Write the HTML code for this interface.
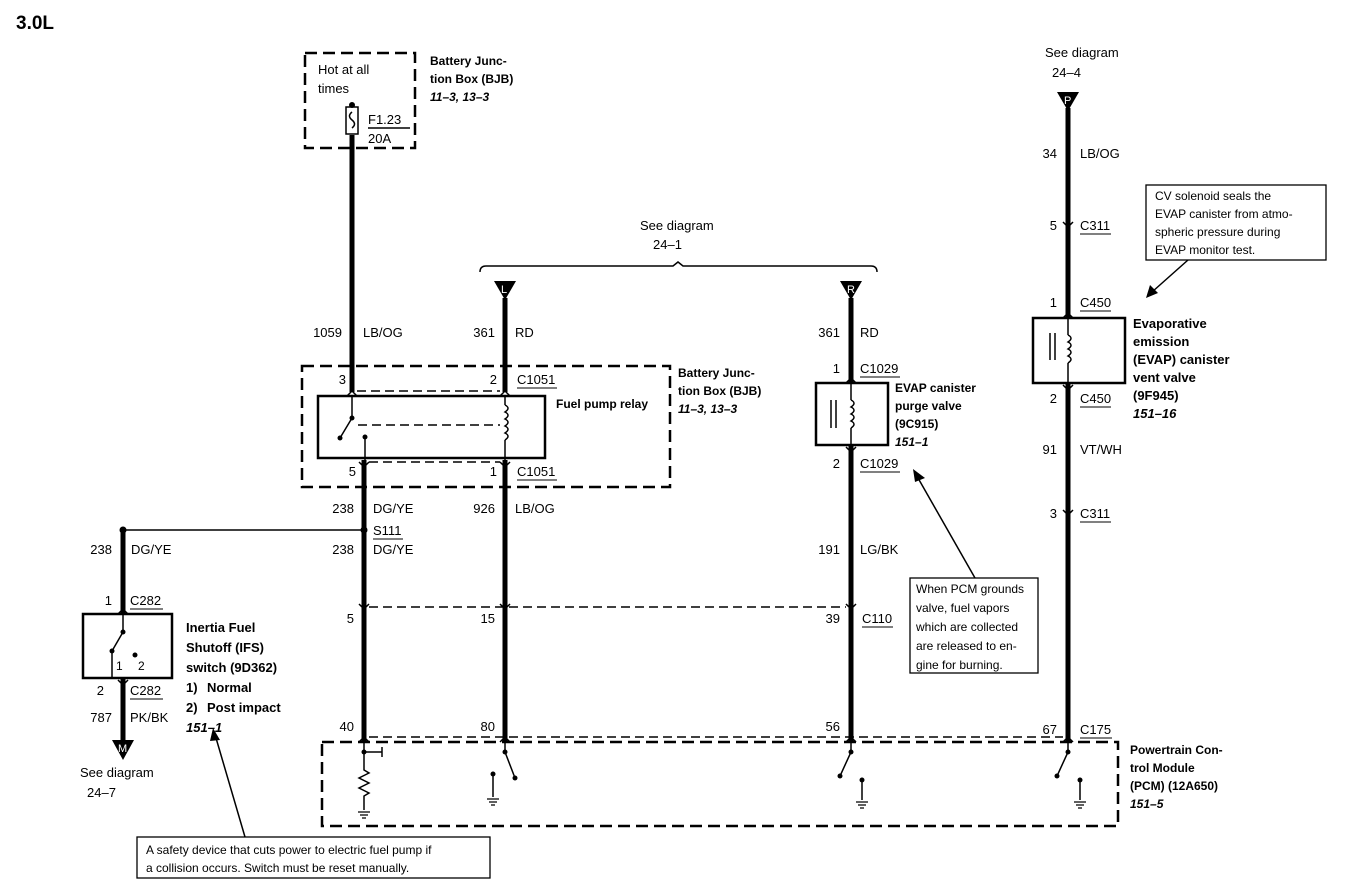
<!DOCTYPE html>
<html><head><meta charset="utf-8"><style>
html,body{margin:0;padding:0;background:#fff;width:1366px;height:887px;overflow:hidden}
svg text{font-family:"Liberation Sans",Arial,sans-serif;font-size:13px;fill:#000;white-space:pre}
.b{font-weight:bold}.bi{font-weight:bold;font-style:italic}
</style></head><body>
<svg width="1366" height="887" viewBox="0 0 1366 887" xmlns="http://www.w3.org/2000/svg">
<text x="16" y="29" class="b" style="font-size:19px">3.0L</text>

<g stroke="#000" stroke-width="5" fill="none">
<line x1="352" y1="135" x2="352" y2="392"/>
<line x1="505" y1="298" x2="505" y2="392"/>
<line x1="505" y1="460" x2="505" y2="742"/>
<line x1="364" y1="460" x2="364" y2="742"/>
<line x1="851" y1="298" x2="851" y2="383"/>
<line x1="851" y1="445" x2="851" y2="742"/>
<line x1="1068" y1="108" x2="1068" y2="318"/>
<line x1="1068" y1="383" x2="1068" y2="742"/>
<line x1="123" y1="530" x2="123" y2="614"/>
<line x1="123" y1="678" x2="123" y2="742"/>
</g>

<g stroke="#000" stroke-width="1.5" fill="none">
<line x1="123" y1="530" x2="364" y2="530"/>
<line x1="352" y1="396" x2="352" y2="418"/>
<line x1="352" y1="418" x2="340" y2="438"/>
<line x1="365" y1="437" x2="365" y2="460"/>
<line x1="505" y1="396" x2="505" y2="405"/>
<path d="M505 405 q6 3 0 7 q6 3 0 7 q6 3 0 7 q6 3 0 7 q6 3 0 7"/>
<line x1="505" y1="440" x2="505" y2="460"/>
<line x1="123" y1="614" x2="123" y2="632"/>
<line x1="123" y1="632" x2="112" y2="651"/>
<line x1="112" y1="651" x2="112" y2="678"/>
<line x1="851" y1="383" x2="851" y2="400"/>
<path d="M851 400 q6 3 0 7 q6 3 0 7 q6 3 0 7 q6 3 0 7"/>
<line x1="851" y1="428" x2="851" y2="445"/>
<line x1="831" y1="400" x2="831" y2="428"/><line x1="836" y1="400" x2="836" y2="428"/>
<line x1="1068" y1="318" x2="1068" y2="335"/>
<path d="M1068 335 q6 3 0 7 q6 3 0 7 q6 3 0 7 q6 3 0 7"/>
<line x1="1068" y1="363" x2="1068" y2="383"/>
<line x1="1050" y1="333" x2="1050" y2="360"/><line x1="1055" y1="333" x2="1055" y2="360"/>
<rect x="346" y="107" width="12" height="27"/>
<path d="M352 112 q-5 4 0 8 q5 4 0 8"/>
<line x1="368" y1="128" x2="410" y2="128"/>
<path d="M480 272 q0 -6 6 -6 L673 266 l5 -4 l5 4 L871 266 q6 0 6 6"/>
<line x1="975" y1="578" x2="918" y2="478"/>
<line x1="1188" y1="260" x2="1152" y2="292"/>
<line x1="245" y1="837" x2="216" y2="738"/>
<line x1="364" y1="742" x2="364" y2="752"/>
<line x1="364" y1="752" x2="382" y2="752"/><line x1="382" y1="747" x2="382" y2="757"/>
<path d="M364 752 L364 770 l5 3 l-10 5 l10 5 l-10 5 l10 5 l-5 3 L364 810"/>
<line x1="505" y1="742" x2="505" y2="752"/><line x1="505" y1="752" x2="515" y2="778"/>
<line x1="493" y1="774" x2="493" y2="797"/>
<line x1="851" y1="742" x2="851" y2="752"/><line x1="851" y1="752" x2="840" y2="776"/>
<line x1="862" y1="780" x2="862" y2="800"/>
<line x1="1068" y1="742" x2="1068" y2="752"/><line x1="1068" y1="752" x2="1057" y2="776"/>
<line x1="1080" y1="780" x2="1080" y2="800"/>
</g>
<polygon points="913,469 925,478 915,482" fill="#000"/>
<polygon points="1146,298 1150,285 1158,293" fill="#000"/>
<polygon points="213,728 220,740 210,741" fill="#000"/>

<g stroke="#000" stroke-width="1.2">
<path d="M358 812 h12 M360 815 h8 M362 818 h4"/>
<path d="M487 799 h12 M489 802 h8 M491 805 h4"/>
<path d="M856 802 h12 M858 805 h8 M860 808 h4"/>
<path d="M1074 802 h12 M1076 805 h8 M1078 808 h4"/>
</g>

<g fill="#000">
<circle cx="123" cy="530" r="3.5"/><circle cx="364" cy="530" r="3.5"/>
<circle cx="352" cy="105" r="3"/>
<circle cx="352" cy="418" r="2.5"/><circle cx="340" cy="438" r="2.5"/><circle cx="365" cy="437" r="2.5"/>
<circle cx="123" cy="632" r="2.5"/><circle cx="112" cy="651" r="2.5"/><circle cx="135" cy="655" r="2.5"/>
<circle cx="364" cy="752" r="2.5"/>
<circle cx="505" cy="752" r="2.5"/><circle cx="515" cy="778" r="2.5"/><circle cx="493" cy="774" r="2.5"/>
<circle cx="851" cy="752" r="2.5"/><circle cx="840" cy="776" r="2.5"/><circle cx="862" cy="780" r="2.5"/>
<circle cx="1068" cy="752" r="2.5"/><circle cx="1057" cy="776" r="2.5"/><circle cx="1080" cy="780" r="2.5"/>
</g>

<g stroke="#000" stroke-width="1.5" fill="none">
<path d="M347 396 l5 -5 l5 5 M500 396 l5 -5 l5 5"/>
<path d="M359 462 l5 5 l5 -5 M500 462 l5 5 l5 -5"/>
<path d="M359 604 l5 5 l5 -5 M500 604 l5 5 l5 -5 M846 604 l5 5 l5 -5"/>
<path d="M359 742 l5 -5 l5 5 M500 742 l5 -5 l5 5 M846 742 l5 -5 l5 5 M1063 742 l5 -5 l5 5"/>
<path d="M846 383 l5 -5 l5 5 M846 447 l5 5 l5 -5"/>
<path d="M1063 318 l5 -5 l5 5 M1063 385 l5 5 l5 -5"/>
<path d="M1063 222 l5 5 l5 -5 M1063 510 l5 5 l5 -5"/>
<path d="M118 614 l5 -5 l5 5 M118 680 l5 5 l5 -5"/>
</g>

<g stroke="#000" stroke-width="2.5" fill="none" stroke-dasharray="12,6">
<rect x="305" y="53" width="110" height="95"/>
<rect x="302" y="366" width="368" height="121"/>
<rect x="322" y="742" width="796" height="84"/>
</g>
<g stroke="#000" stroke-width="1.5" fill="none" stroke-dasharray="9,5">
<line x1="357" y1="391" x2="500" y2="391"/>
<line x1="358" y1="425" x2="500" y2="425"/>
<line x1="369" y1="462" x2="500" y2="462"/>
<line x1="369" y1="607" x2="846" y2="607"/>
<line x1="369" y1="737" x2="1063" y2="737"/>
</g>
<g stroke="#000" stroke-width="2.5" fill="none">
<rect x="318" y="396" width="227" height="62"/>
<rect x="83" y="614" width="89" height="64"/>
<rect x="816" y="383" width="72" height="62"/>
<rect x="1033" y="318" width="92" height="65"/>
</g>
<g stroke="#000" stroke-width="1.3" fill="#fff">
<rect x="910" y="578" width="128" height="95"/>
<rect x="1146" y="185" width="180" height="75"/>
<rect x="137" y="837" width="353" height="41"/>
</g>

<g fill="#000">
<polygon points="494,281 516,281 505,300"/>
<polygon points="840,281 862,281 851,300"/>
<polygon points="1057,92 1079,92 1068,111"/>
<polygon points="112,740 134,740 123,760"/>
</g>
<text x="501" y="293" style="fill:#fff;font-size:11px">L</text>
<text x="847" y="293" style="fill:#fff;font-size:11px">R</text>
<text x="1064" y="104" style="fill:#fff;font-size:11px">P</text>
<text x="118" y="752" style="fill:#fff;font-size:11px">M</text>

<text x="318" y="74">Hot at all</text>
<text x="318" y="93">times</text>
<text x="368" y="124">F1.23</text>
<text x="368" y="143">20A</text>
<text x="430" y="65" class="b" style="font-size:12px">Battery Junc-</text>
<text x="430" y="83" class="b" style="font-size:12px">tion Box (BJB)</text>
<text x="430" y="101" class="bi" style="font-size:12px">11–3, 13–3</text>

<text x="640" y="230">See diagram</text>
<text x="653" y="249">24–1</text>
<text x="1045" y="57">See diagram</text>
<text x="1052" y="77">24–4</text>

<g text-anchor="end">
<text x="342" y="337">1059</text><text x="495" y="337">361</text><text x="840" y="337">361</text>
<text x="346" y="384">3</text><text x="497" y="384">2</text>
<text x="356" y="476">5</text><text x="497" y="476">1</text>
<text x="354" y="513">238</text><text x="495" y="513">926</text>
<text x="354" y="554">238</text>
<text x="112" y="554">238</text>
<text x="112" y="605">1</text><text x="104" y="695">2</text><text x="112" y="722">787</text>
<text x="354" y="623">5</text><text x="495" y="623">15</text><text x="840" y="623">39</text>
<text x="354" y="731">40</text><text x="495" y="731">80</text><text x="840" y="731">56</text><text x="1057" y="734">67</text>
<text x="840" y="373">1</text><text x="840" y="468">2</text><text x="840" y="554">191</text>
<text x="1057" y="158">34</text><text x="1057" y="230">5</text><text x="1057" y="307">1</text>
<text x="1057" y="403">2</text><text x="1057" y="454">91</text><text x="1057" y="518">3</text>
</g>
<text x="363" y="337">LB/OG</text><text x="515" y="337">RD</text><text x="860" y="337">RD</text>
<text x="517" y="384">C1051</text><text x="517" y="476">C1051</text>
<text x="556" y="408" class="b" style="font-size:12px">Fuel pump relay</text>
<text x="678" y="377" class="b" style="font-size:12px">Battery Junc-</text>
<text x="678" y="395" class="b" style="font-size:12px">tion Box (BJB)</text>
<text x="678" y="413" class="bi" style="font-size:12px">11–3, 13–3</text>
<text x="373" y="513">DG/YE</text><text x="515" y="513">LB/OG</text>
<text x="373" y="535">S111</text><text x="373" y="554">DG/YE</text>
<text x="131" y="554">DG/YE</text>
<text x="130" y="605">C282</text>
<text x="116" y="670" style="font-size:12px">1</text><text x="138" y="670" style="font-size:12px">2</text>
<text x="130" y="695">C282</text><text x="130" y="722">PK/BK</text>
<text x="80" y="777">See diagram</text><text x="87" y="797">24–7</text>
<text x="186" y="632" class="b">Inertia Fuel</text>
<text x="186" y="652" class="b">Shutoff (IFS)</text>
<text x="186" y="672" class="b">switch (9D362)</text>
<text x="186" y="692" class="b">1)</text><text x="207" y="692" class="b">Normal</text>
<text x="186" y="712" class="b">2)</text><text x="207" y="712" class="b">Post impact</text>
<text x="186" y="732" class="bi">151–1</text>
<text x="860" y="373">C1029</text><text x="860" y="468">C1029</text>
<text x="895" y="392" class="b" style="font-size:12px">EVAP canister</text>
<text x="895" y="410" class="b" style="font-size:12px">purge valve</text>
<text x="895" y="428" class="b" style="font-size:12px">(9C915)</text>
<text x="895" y="446" class="bi" style="font-size:12px">151–1</text>
<text x="860" y="554">LG/BK</text>
<text x="862" y="623">C110</text>
<text x="1080" y="734">C175</text>
<text x="1130" y="754" class="b" style="font-size:12px">Powertrain Con-</text>
<text x="1130" y="772" class="b" style="font-size:12px">trol Module</text>
<text x="1130" y="790" class="b" style="font-size:12px">(PCM) (12A650)</text>
<text x="1130" y="808" class="bi" style="font-size:12px">151–5</text>
<text x="1080" y="158">LB/OG</text><text x="1080" y="230">C311</text><text x="1080" y="307">C450</text>
<text x="1080" y="403">C450</text><text x="1080" y="454">VT/WH</text><text x="1080" y="518">C311</text>
<text x="1133" y="328" class="b">Evaporative</text>
<text x="1133" y="346" class="b">emission</text>
<text x="1133" y="364" class="b">(EVAP) canister</text>
<text x="1133" y="382" class="b">vent valve</text>
<text x="1133" y="400" class="b">(9F945)</text>
<text x="1133" y="418" class="bi">151–16</text>
<text x="916" y="593" style="font-size:12px">When PCM grounds</text>
<text x="916" y="612" style="font-size:12px">valve, fuel vapors</text>
<text x="916" y="631" style="font-size:12px">which are collected</text>
<text x="916" y="650" style="font-size:12px">are released to en-</text>
<text x="916" y="669" style="font-size:12px">gine for burning.</text>
<text x="1155" y="200" style="font-size:12px">CV solenoid seals the</text>
<text x="1155" y="218" style="font-size:12px">EVAP canister from atmo-</text>
<text x="1155" y="236" style="font-size:12px">spheric pressure during</text>
<text x="1155" y="254" style="font-size:12px">EVAP monitor test.</text>
<text x="146" y="854" style="font-size:12px">A safety device that cuts power to electric fuel pump if</text>
<text x="146" y="872" style="font-size:12px">a collision occurs. Switch must be reset manually.</text>
<g stroke="#000" stroke-width="1">
<line x1="517" y1="388" x2="557" y2="388"/><line x1="517" y1="480" x2="557" y2="480"/>
<line x1="373" y1="539" x2="403" y2="539"/>
<line x1="130" y1="609" x2="163" y2="609"/><line x1="130" y1="699" x2="163" y2="699"/>
<line x1="860" y1="377" x2="900" y2="377"/><line x1="860" y1="472" x2="900" y2="472"/>
<line x1="862" y1="627" x2="893" y2="627"/><line x1="1080" y1="738" x2="1112" y2="738"/>
<line x1="1080" y1="234" x2="1111" y2="234"/><line x1="1080" y1="311" x2="1111" y2="311"/>
<line x1="1080" y1="407" x2="1111" y2="407"/><line x1="1080" y1="522" x2="1111" y2="522"/>
</g>
</svg>
</body></html>
